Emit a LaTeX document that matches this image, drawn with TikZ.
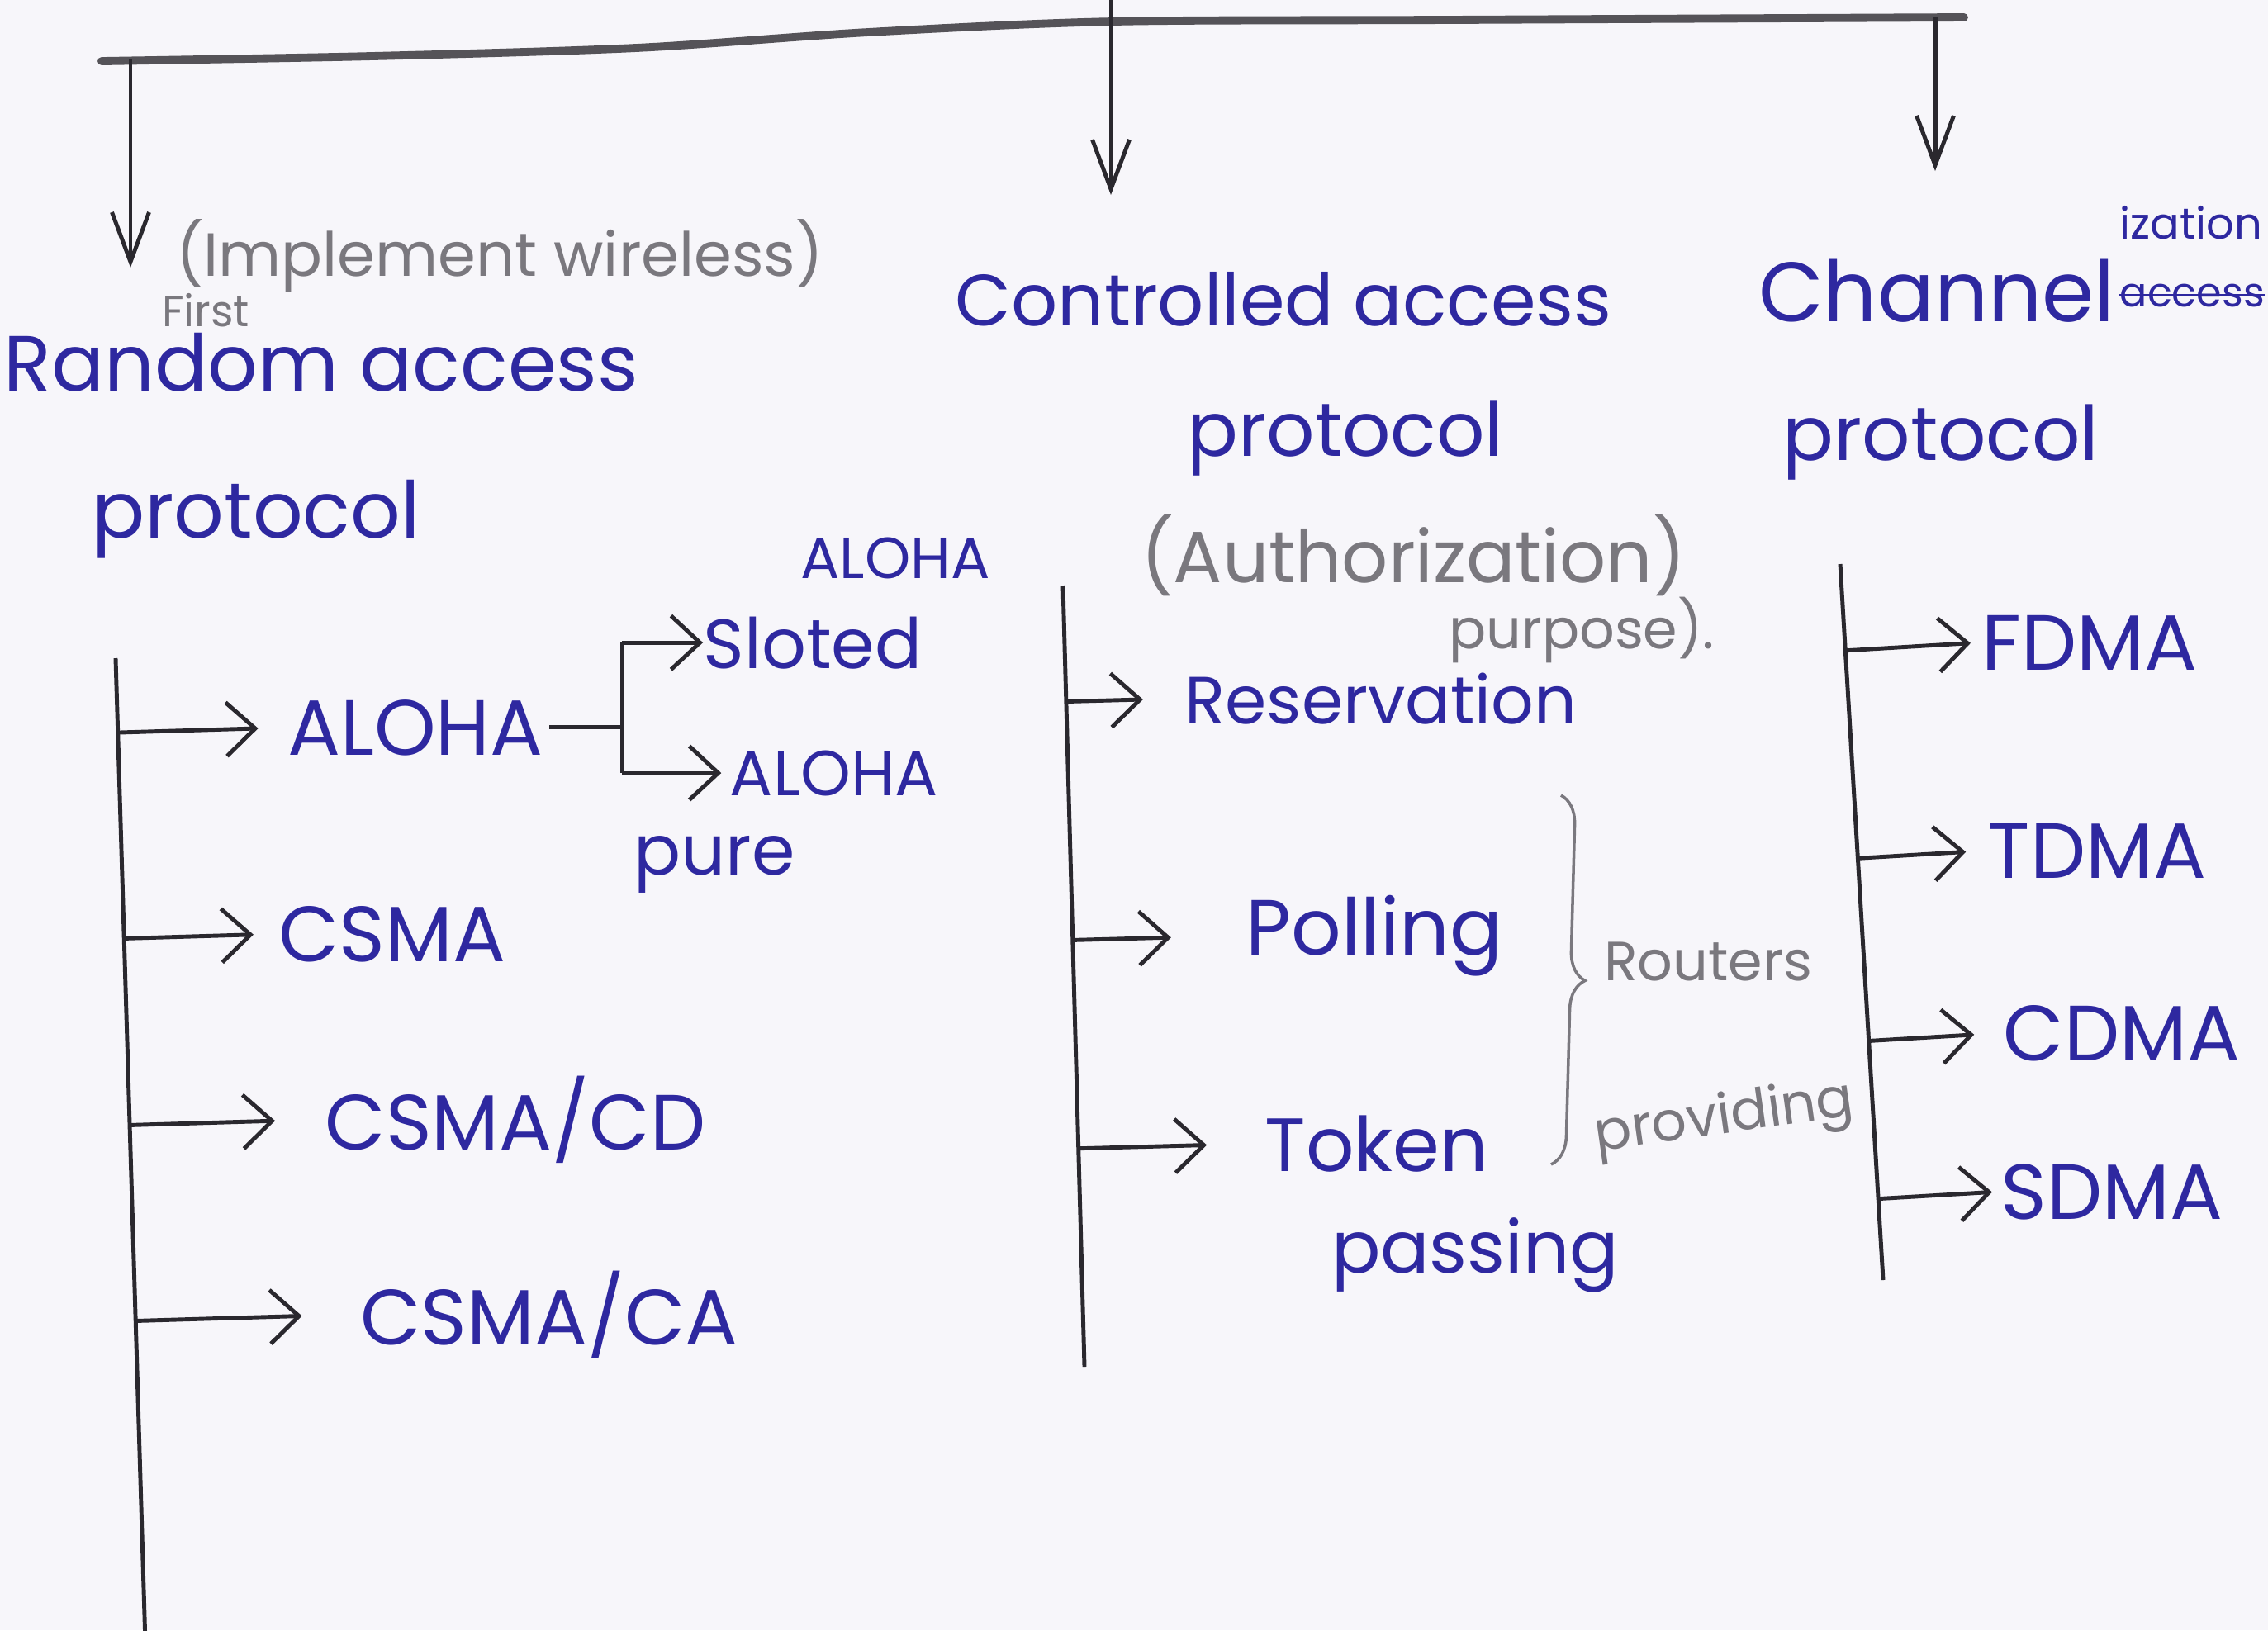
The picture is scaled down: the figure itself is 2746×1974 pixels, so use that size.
\documentclass[tikz,border=0pt]{standalone}
\usepackage{fontspec}
\setmainfont{Poppins}
\usepackage{xcolor}
\usepackage{tikz}
\usetikzlibrary{arrows.meta}
\usetikzlibrary{calc}
\usetikzlibrary{decorations.pathreplacing}
\definecolor{ink}{RGB}{46,40,160}
\definecolor{pencil}{RGB}{122,120,126}
\definecolor{lead}{RGB}{42,40,46}
\definecolor{paper}{RGB}{247,246,250}
\tikzset{
  InkText/.style={
    text=ink, inner sep=0pt, anchor=base,
    font=\fontsize{27}{32}\selectfont,
  },
  PencilText/.style={
    text=pencil, inner sep=0pt, anchor=base,
    font=\fontsize{19}{23}\selectfont,
  },
  Bar/.style={draw=lead!80, line width=2.8pt, line cap=round},
  Trunk/.style={draw=lead, line width=1.4pt},
  Branch/.style={draw=lead, line width=1.4pt, -{Straight Barb[length=3.5mm,width=6.5mm]}},
  DownArrow/.style={draw=lead, line width=1.4pt, -{Straight Barb[length=6mm,width=4.5mm]}},
}

\begin{document}
\begin{tikzpicture}[x=0.01cm, y=-0.01cm]
\fill[paper] (0,0) rectangle (2746,1974);
\useasboundingbox (0,0) rectangle (2746,1974);

% bar across the top, and the three heads hanging from it
\draw[Bar] plot[smooth] coordinates {(123,74) (450,68) (770,58) (1051,39) (1348,26) (1751,24) (2378,21)};
\coordinate (BARL) at (158,72);
\coordinate (TOPM) at (1345,0);
\coordinate (BARR) at (2343,21);
\coordinate (RANDTIP) at (158,324);
\coordinate (CTRLTIP) at (1345,236);
\coordinate (CHANTIP) at (2343,207);
\draw[DownArrow] (BARL) -- (RANDTIP);
\draw[DownArrow] (TOPM) -- (CTRLTIP);
\draw[DownArrow] (BARR) -- (CHANTIP);

% headings
\node[PencilText, font=\fontsize{21}{25}\selectfont] (WIRELESS) at (605,334) {(Implement wireless)};
\node[PencilText, font=\fontsize{15}{18}\selectfont] (FIRST) at (249,395) {First};
\node[InkText] (RAND) at (389,473) {Random access};
\node[InkText] (RANDP) at (310,651) {protocol};
\node[InkText, font=\fontsize{25}{30}\selectfont] (CTRL) at (1554,394) {Controlled access};
\node[InkText, font=\fontsize{26}{30}\selectfont] (CTRLP) at (1629,552) {protocol};
\node[PencilText, font=\fontsize{25}{30}\selectfont] (AUTH) at (1711,705) {(Authorization)};
\node[PencilText] (PURPOSE) at (1915,785) {purpose).};
\node[InkText, font=\fontsize{29}{34}\selectfont] (CHAN) at (2345,389) {Channel};
\node[InkText, font=\fontsize{15}{18}\selectfont, anchor=base west] (CHANX) at (2566,289) {ization};
\node[InkText, font=\fontsize{14}{17}\selectfont, anchor=base west] (CHANS) at (2566,371) {access};
\draw[ink, line width=1pt] (CHANS.west) -- (CHANS.east);
\node[InkText, font=\fontsize{26}{30}\selectfont] (CHANP) at (2350,557) {protocol};

% random access branches
\coordinate (LTOP) at (140,797);
\coordinate (LBOT) at (176,1990);
\draw[Trunk] (LTOP) -- (LBOT);
\node[InkText] (ALOHA) at (503,914) {ALOHA};
\node[InkText] (CSMA) at (475,1164) {CSMA};
\node[InkText] (CSMACD) at (624,1392) {CSMA/CD};
\node[InkText] (CSMACA) at (665,1628) {CSMA/CA};
\foreach \n/\g in {ALOHA/3.5mm, CSMA/3mm, CSMACD/6mm, CSMACA/7mm}
  \draw[Branch, shorten >=\g] ($(LTOP)!(\n.west)!(LBOT)$) -- (\n.west);

% pure and slotted aloha
\node[InkText, font=\fontsize{20}{24}\selectfont] (SLOTEDA) at (1084,700) {ALOHA};
\node[InkText, font=\fontsize{24}{28}\selectfont] (SLOTED) at (984,809) {Sloted};
\node[InkText, font=\fontsize{22}{26}\selectfont] (ALOHAB) at (1010,963) {ALOHA};
\node[InkText, font=\fontsize{24}{28}\selectfont] (PURE) at (865,1059) {pure};
\coordinate (FORK) at (753,0);
\draw[Trunk] ([xshift=2pt]ALOHA.east) -- (FORK |- ALOHA.east);
\draw[Trunk] (FORK |- SLOTED.west) -- (FORK |- ALOHAB.west);
\draw[Branch] (FORK |- SLOTED.west) -- (SLOTED.west);
\draw[Branch, shorten >=1mm] (FORK |- ALOHAB.west) -- (ALOHAB.west);

% controlled access branches
\coordinate (MTOP) at (1287,709);
\coordinate (MBOT) at (1313,1655);
\draw[Trunk] (MTOP) -- (MBOT);
\node[InkText, font=\fontsize{23}{28}\selectfont] (RES) at (1672,876) {Reservation};
\node[InkText] (POLL) at (1664,1156) {Polling};
\node[InkText, font=\fontsize{26}{30}\selectfont] (TOKEN) at (1667,1418) {Token};
\node[InkText, font=\fontsize{25}{30}\selectfont] (PASSING) at (1786,1541) {passing};
\foreach \n/\g in {RES/5mm, POLL/9mm, TOKEN/7mm}
  \draw[Branch, shorten >=\g] ($(MTOP)!(\n.west)!(MBOT)$) -- (\n.west);
\coordinate (BRACETOP) at (1890,963);
\coordinate (BRACEBOT) at (1878,1410);
\draw[pencil, line width=1pt, decorate, decoration={brace, amplitude=0.35cm}] (BRACETOP) -- (BRACEBOT);
\node[PencilText] (ROUTERS) at (2068,1187) {Routers};
\node[PencilText, rotate=8] (PROVIDING) at (2090,1372) {providing};

% channelization branches
\coordinate (RTOP) at (2228,683);
\coordinate (RBOT) at (2280,1550);
\draw[Trunk] (RTOP) -- (RBOT);
\node[InkText] (FDMA) at (2530,811) {FDMA};
\node[InkText] (TDMA) at (2539,1063) {TDMA};
\node[InkText] (CDMA) at (2569,1284) {CDMA};
\node[InkText] (SDMA) at (2557,1476) {SDMA};
\foreach \n/\g in {FDMA/1.3mm, TDMA/2.6mm, CDMA/3.5mm, SDMA/1mm}
  \draw[Branch, shorten >=\g] ($(RTOP)!(\n.west)!(RBOT)$) -- (\n.west);
\end{tikzpicture}
\end{document}
